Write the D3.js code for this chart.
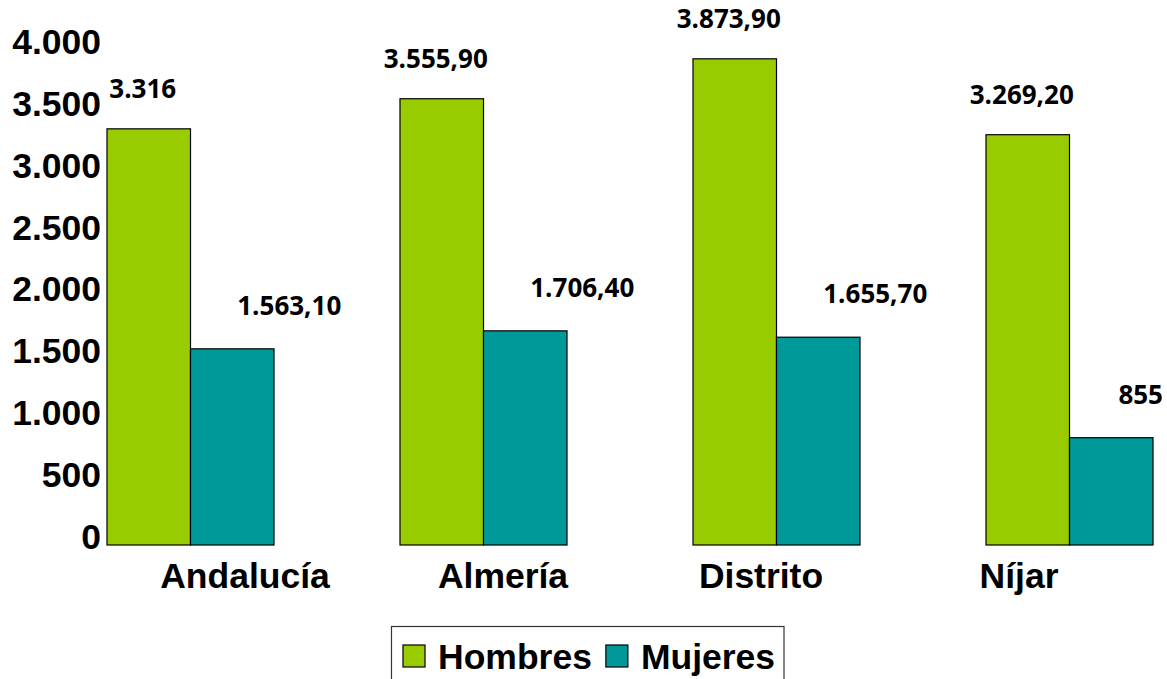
<!DOCTYPE html>
<html>
<head>
<meta charset="utf-8">
<script src="https://cdn.jsdelivr.net/npm/d3@7"></script>
<style>
    body { margin: 0; background: #fff; }
    svg { display: block; }
</style>
</head>
<body>
<div id="chart"></div>
<script>
// Chart data
const categories = ["Andalucía", "Almería", "Distrito", "Níjar"];
const seriesNames = ["Hombres", "Mujeres"];
const hombres = [3316, 3555.9, 3873.9, 3269.2];
const mujeres = [1563.1, 1706.4, 1655.7, 855];
const yTicks = [0, 500, 1000, 1500, 2000, 2500, 3000, 3500, 4000];

// SVG dimensions
const w = 1167;
const h = 679;
const colors = ["#99cc00", "#009999"];

// Spanish number format
const es = d3.formatLocale({ decimal: ",", thousands: ".", grouping: [3], currency: ["", " €"] });
const fmtInt = es.format(",d");
const fmtDec = es.format(",.2f");
const fmtValue = v => Number.isInteger(v) ? fmtInt(v) : fmtDec(v);

const rows = categories.map((c, i) => ({ cat: c, values: [hombres[i], mujeres[i]] }));

// Scales
const x0 = d3.scaleBand()
    .domain(categories)
    .range([44, 1216])
    .paddingInner(0.43)
    .paddingOuter(0.215);

const x1 = d3.scaleBand()
    .domain(seriesNames)
    .range([0, x0.bandwidth()]);

const xLabel = d3.scalePoint()
    .domain(categories)
    .range([245, 1019]);

const yScale = d3.scaleLinear()
    .domain([0, 4000])
    .range([545, 43]);

// tick labels sit on a slightly tighter scale than the bars
const yLabel = d3.scaleLinear()
    .domain([0, 4000])
    .range([537, 42]);

const svg = d3.select("#chart")
    .append("svg")
    .attr("width", w)
    .attr("height", h);

// Y axis labels only
const yAxis = d3.axisLeft(yLabel)
    .tickValues(yTicks)
    .tickSize(0)
    .tickPadding(6)
    .tickFormat(fmtInt);

const yg = svg.append("g")
    .attr("transform", "translate(107,0)")
    .call(yAxis);
yg.select(".domain").remove();
yg.selectAll("text")
    .style("font-family", "'Liberation Sans', Arial, sans-serif")
    .style("font-weight", "bold")
    .style("font-size", "35.5px")
    .attr("fill", "#000");

// Bars
const groups = svg.selectAll(".grp")
    .data(rows)
    .enter()
    .append("g")
    .attr("class", "grp")
    .attr("transform", d => "translate(" + x0(d.cat) + ",0)");

groups.selectAll("rect")
    .data(d => d.values.map((v, i) => ({ name: seriesNames[i], value: v, idx: i })))
    .enter()
    .append("rect")
    .attr("x", d => x1(d.name))
    .attr("y", d => yScale(d.value))
    .attr("width", x1.bandwidth())
    .attr("height", d => yScale(0) - yScale(d.value))
    .attr("fill", d => colors[d.idx])
    .attr("stroke", "#000")
    .attr("stroke-width", 1.2);

// Value labels
groups.selectAll(".val")
    .data(d => d.values.map((v, i) => ({ name: seriesNames[i], value: v, idx: i, gx: x0(d.cat) })))
    .enter()
    .append("text")
    .attr("class", "val")
    .attr("text-anchor", "middle")
    .style("font-family", "'Open Sans', sans-serif")
    .style("font-weight", "bold")
    .style("font-size", "26px")
    .attr("fill", "#000")
    .attr("y", d => yScale(d.value) - (d.idx === 0 ? 31 : 34))
    .text(d => fmtValue(d.value))
    .attr("x", function(d) {
        let cx = x1(d.name) + x1.bandwidth() / 2 + (d.idx === 0 ? -6 : 57);
        const half = this.getComputedTextLength() / 2;
        if (d.gx + cx + half > w - 4) cx = w - 4 - half - d.gx;
        return cx;
    });

// Category labels
svg.selectAll(".cat")
    .data(categories)
    .enter()
    .append("text")
    .attr("class", "cat")
    .attr("x", d => xLabel(d))
    .attr("y", 588)
    .attr("text-anchor", "middle")
    .style("font-family", "'Liberation Sans', Arial, sans-serif")
    .style("font-weight", "bold")
    .style("font-size", "35.5px")
    .attr("fill", "#000")
    .text(d => d);

// Legend
svg.append("rect")
    .attr("x", 391.5)
    .attr("y", 626.5)
    .attr("width", 392.5)
    .attr("height", 80)
    .attr("fill", "#fff")
    .attr("stroke", "#333")
    .attr("stroke-width", 1.2);

let lx = 403;
seriesNames.forEach((name, i) => {
    svg.append("rect")
        .attr("x", lx)
        .attr("y", 645)
        .attr("width", 22)
        .attr("height", 22)
        .attr("fill", colors[i])
        .attr("stroke", "#000")
        .attr("stroke-width", 1.2);
    const t = svg.append("text")
        .attr("x", lx + 35)
        .attr("y", 669)
        .style("font-family", "'Liberation Sans', Arial, sans-serif")
        .style("font-weight", "bold")
        .style("font-size", "35.5px")
        .attr("fill", "#000")
        .text(name);
    lx += 35 + t.node().getComputedTextLength() + 14;
});
</script>
</body>
</html>
